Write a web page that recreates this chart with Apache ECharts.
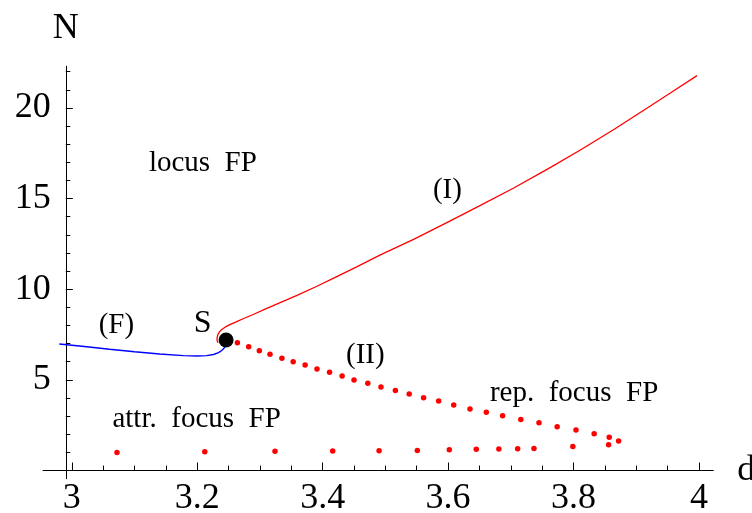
<!DOCTYPE html>
<html><head><meta charset="utf-8">
<script src="https://cdn.jsdelivr.net/npm/echarts@6.0.0/dist/echarts.min.js"></script>
<style>html,body{margin:0;padding:0;background:#fff}#c{width:752px;height:513px}</style>
</head><body><div id="c"></div>
<script>
// axis ranges / ticks
const X_MIN = 2.954, X_MAX = 4.023, Y_MIN = -0.45, Y_MAX = 22.3;
const Y_AXIS_AT = 2.9904;
const X_MAJOR = [3, 3.2, 3.4, 3.6, 3.8, 4];
const X_MINOR = [3.05,3.1,3.15,3.25,3.3,3.35,3.45,3.5,3.55,3.65,3.7,3.75,3.85,3.9,3.95];
const Y_MAJOR = [5, 10, 15, 20];
const Y_MINOR = [1,2,3,4,6,7,8,9,11,12,13,14,16,17,18,19,21,22];

// branch (I): solid red
const branchI = [[3.233,7.05],[3.2315,7.20],[3.2318,7.35],[3.233,7.50],[3.2355,7.65],[3.239,7.78],
  [3.245,7.92],[3.252,8.05],[3.262,8.20],[3.275,8.40],[3.290,8.62],[3.310,8.93],[3.335,9.30],
  [3.360,9.67],[3.390,10.15],[3.420,10.65],[3.455,11.25],[3.492,11.89],[3.545,12.75],
  [3.598,13.67],[3.650,14.60],[3.704,15.57],[3.760,16.65],[3.811,17.68],[3.865,18.82],[3.917,19.98],
  [3.960,20.95],[3.997,21.78]];
// branch (F): blue
const branchF = [[2.980,6.98],[3.020,6.84],[3.060,6.69],[3.100,6.55],[3.140,6.43],[3.178,6.34],[3.200,6.32],
  [3.215,6.34],[3.226,6.40],[3.234,6.50],[3.239,6.62],[3.243,6.76],[3.245,6.88]];
// branch (II): red dots
const branchII = [[3.264,7.05],[3.282,6.83],[3.299,6.61],[3.316,6.41],[3.335,6.19],[3.353,6.00],
  [3.372,5.82],[3.391,5.60],[3.411,5.42],[3.431,5.21],[3.450,4.99],[3.472,4.81],[3.493,4.61],
  [3.516,4.42],[3.538,4.22],[3.561,4.02],[3.585,3.83],[3.609,3.61],[3.635,3.40],[3.661,3.21],
  [3.687,3.02],[3.716,2.82],[3.745,2.64],[3.774,2.42],[3.804,2.23],[3.833,2.03],[3.857,1.83],[3.872,1.63]];
// lower red dots
const lowerDots = [[3.072,1.00],[3.212,1.04],[3.324,1.06],[3.416,1.08],[3.490,1.09],[3.551,1.11],
  [3.602,1.15],[3.645,1.18],[3.681,1.19],[3.711,1.20],[3.737,1.22],[3.799,1.33],[3.856,1.42]];
// point S
const pointS = [[3.246,7.20]];
// annotations
const annoText = ['locus  FP', '(I)', '(F)', 'S', '(II)', 'attr.  focus  FP', 'rep.  focus  FP'];
const annoPos = [[3.209,16.95],[3.599,15.44],[3.071,8.00],[3.2085,8.08],[3.468,6.37],[3.199,2.84],[3.801,4.27]];
const annoSize = [29, 29, 29, 32, 29, 29, 29];

const FONT = '"Liberation Serif", "DejaVu Serif", serif';
const chart = echarts.init(document.getElementById('c'), null, {renderer: 'canvas'});
const GRID = {left: 43, right: 38.7, top: 66.2, bottom: 34.3};
const gridW = 752 - GRID.left - GRID.right;
const yOffset = -(Y_AXIS_AT - X_MIN) / (X_MAX - X_MIN) * gridW;

const axisLineStyle = {color: '#000', width: 1};
const option = {
  animation: false,
  backgroundColor: '#fff',
  grid: Object.assign({containLabel: false, outerBoundsMode: 'none'}, GRID),
  xAxis: [{
    type: 'value', min: X_MIN, max: X_MAX,
    axisLine: {show: true, onZero: true, onZeroAxisIndex: 0, lineStyle: axisLineStyle},
    axisTick: {show: true, inside: true, length: 8, customValues: X_MAJOR, lineStyle: axisLineStyle},
    axisLabel: {show: true, customValues: X_MAJOR, fontFamily: FONT, fontSize: 36, color: '#000', margin: 2,
      formatter: v => String(+v.toFixed(1))},
    splitLine: {show: false},
    name: 'd', nameLocation: 'end', nameGap: 24, nameMoveOverlap: false,
    nameTextStyle: {fontFamily: FONT, fontSize: 36, color: '#000', verticalAlign: 'middle', align: 'left'}
  }, {
    type: 'value', min: X_MIN, max: X_MAX, position: 'bottom',
    axisLine: {show: false, onZero: true, onZeroAxisIndex: 0},
    axisTick: {show: true, inside: true, length: 5, customValues: X_MINOR, lineStyle: axisLineStyle},
    axisLabel: {show: false}, splitLine: {show: false}
  }],
  yAxis: [{
    type: 'value', min: Y_MIN, max: Y_MAX, position: 'left', offset: yOffset,
    axisLine: {show: true, onZero: false, lineStyle: axisLineStyle},
    axisTick: {show: true, inside: true, length: 7, customValues: Y_MAJOR, lineStyle: axisLineStyle},
    axisLabel: {show: true, customValues: Y_MAJOR, fontFamily: FONT, fontSize: 36, color: '#000', margin: 15},
    splitLine: {show: false},
    name: 'N', nameLocation: 'end', nameGap: 20, nameMoveOverlap: false,
    nameTextStyle: {fontFamily: FONT, fontSize: 36, color: '#000', align: 'center'}
  }, {
    type: 'value', min: Y_MIN, max: Y_MAX, position: 'left', offset: yOffset,
    axisLine: {show: false, onZero: false},
    axisTick: {show: true, inside: true, length: 4.5, customValues: Y_MINOR, lineStyle: axisLineStyle},
    axisLabel: {show: false}, splitLine: {show: false}
  }],
  series: [
    {type: 'line', data: branchF, symbol: 'none', smooth: false, lineStyle: {color: '#0000ff', width: 1.4}, z: 3},
    {type: 'line', data: branchI, symbol: 'none', smooth: false, lineStyle: {color: '#ff0000', width: 1.3}, z: 3},
    {type: 'scatter', data: branchII, symbol: 'circle', symbolSize: 5.5, itemStyle: {color: '#ff0000', opacity: 1}, z: 3},
    {type: 'scatter', data: lowerDots, symbol: 'circle', symbolSize: 5.5, itemStyle: {color: '#ff0000', opacity: 1}, z: 3},
    {type: 'scatter', data: pointS, symbol: 'circle', symbolSize: 15, itemStyle: {color: '#000', opacity: 1}, z: 5},
    {type: 'scatter', symbolSize: 1, itemStyle: {color: 'rgba(0,0,0,0)'}, z: 6, silent: true,
      data: annoText.map((t, i) => ({name: t, value: annoPos[i],
        label: {show: true, position: 'inside', formatter: '{b}', fontFamily: FONT, fontSize: annoSize[i],
          color: '#000', textBorderWidth: 0, textBorderColor: 'transparent', opacity: 1}}))}
  ]
};
chart.setOption(option);
</script></body></html>
